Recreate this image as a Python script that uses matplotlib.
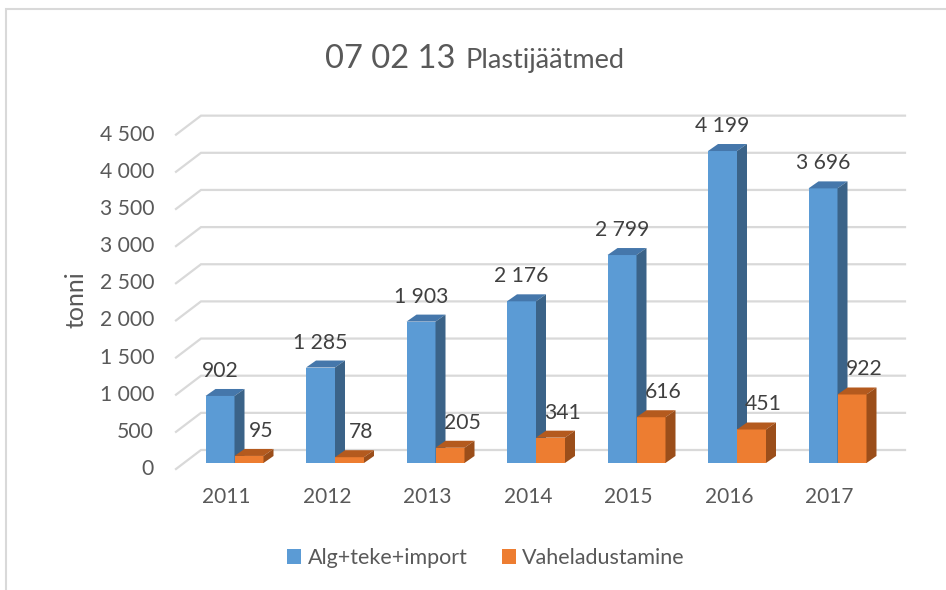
import numpy as np
import matplotlib.pyplot as plt
from matplotlib.patches import Patch, Rectangle

# data
years = ['2011', '2012', '2013', '2014', '2015', '2016', '2017']
alg_teke_import = [902, 1285, 1903, 2176, 2799, 4199, 3696]
vaheladustamine = [95, 78, 205, 341, 616, 451, 922]
y_ticks = [0, 500, 1000, 1500, 2000, 2500, 3000, 3500, 4000, 4500]
series_names = ['Alg+teke+import', 'Vaheladustamine']

plt.rcParams['font.family'] = ['Lato', 'DejaVu Sans']

W, H = 946, 590
# pixel geometry of the fake 3D plot (one category = 100.5 px, 1000 t = 74.3 px)
PX_CAT = 100.5
X0 = 234.5
Y0 = 463
PX_VAL = 0.0743

fig = plt.figure(figsize=(W / 100, H / 100), dpi=100)
ax = fig.add_axes([0, 0, 1, 1])
ax.set_xlim(-X0 / PX_CAT, (W - X0) / PX_CAT)
ax.set_ylim((Y0 - H) / PX_VAL, Y0 / PX_VAL)
ax.axis('off')

def px_x(p):
    return (p - X0) / PX_CAT

def px_dy(p):
    return p / PX_VAL

# chart border (only left and top are inside the crop)
fig.patches.append(Rectangle((6 / W, -0.1), 1.2, 1 - 9 / H + 0.1, transform=fig.transFigure,
                             fill=False, edgecolor='#d9d9d9', linewidth=1.5))

# gridlines: back wall + diagonal towards front
grid_c = '#d9d9d9'
back_shift = px_dy(13)
front_shift = px_dy(-6)
for v in y_ticks:
    ax.plot([px_x(176), px_x(201), px_x(905)],
            [v + front_shift, v + back_shift, v + back_shift],
            color=grid_c, linewidth=1.6, zorder=1, solid_joinstyle='miter')
    ax.text(px_x(154), v - px_dy(6), f'{v:,}'.replace(',', ' '), ha='right', va='center',
            fontsize=15.2, color='#595959')

x = np.arange(len(years))
bw = 29 / PX_CAT
ddx = 10 / PX_CAT
ddy = px_dy(7)

styles = [
    ('#5b9bd5', '#4577ab', '#3b6388'),
    ('#ed7d31', '#b45a1e', '#9b4e1a'),
]

for k, (vals, (c_front, c_top, c_side)) in enumerate(zip([alg_teke_import, vaheladustamine], styles)):
    left = x - bw if k == 0 else x
    for xl, v in zip(left, vals):
        ax.bar(xl, v, width=bw, align='edge', color=c_front, linewidth=0, zorder=3)
        ax.fill([xl, xl + bw, xl + bw + ddx, xl + ddx], [v, v, v + ddy, v + ddy],
                color=c_top, linewidth=0, zorder=3)
        ax.fill([xl + bw, xl + bw, xl + bw + ddx, xl + bw + ddx], [0, v, v + ddy, ddy],
                color=c_side, linewidth=0, zorder=3)
        lx = xl + bw / 2 + (0 if k == 0 else 0.12)
        ax.annotate(f'{v:,}'.replace(',', ' '), (lx, v), xytext=(0, 18), textcoords='offset points',
                    ha='center', va='center', fontsize=15.2, color='#404040', zorder=5)

for i, yr in enumerate(years):
    ax.text(i - 0.08, px_dy(-34), yr, ha='center', va='center', fontsize=15, color='#595959')

ax.text(px_x(76), px_dy(Y0 - 300), 'tonni', rotation=90, ha='center', va='center',
        fontsize=18, color='#595959')

# title with two font sizes
fig.text(455 / W, 1 - 68 / H, '07 02 13', ha='right', va='baseline', fontsize=23.5, color='#595959')
fig.text(465 / W, 1 - 68 / H, 'Plastijäätmed', ha='left', va='baseline', fontsize=19.5, color='#595959')

handles = [Patch(facecolor=s[0], edgecolor='none') for s in styles]
fig.legend(handles, series_names, loc='center', bbox_to_anchor=(486 / W, 1 - 558 / H), ncol=2,
           frameon=False, fontsize=15.5, handlelength=0.65, handleheight=0.65,
           handletextpad=0.3, columnspacing=1.6, labelcolor='#595959')

fig.savefig('out.png', dpi=100, facecolor='white')
